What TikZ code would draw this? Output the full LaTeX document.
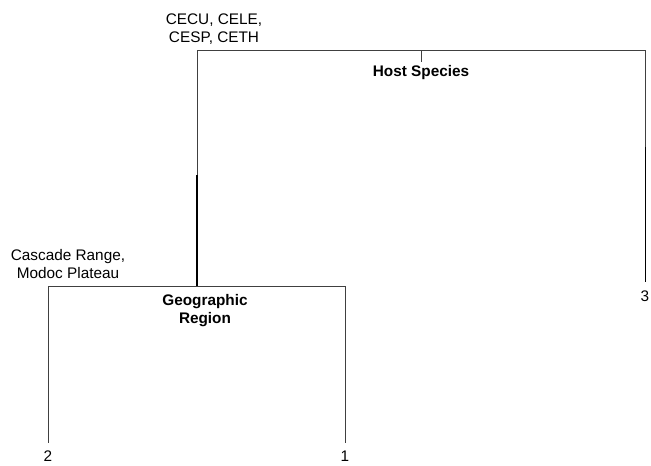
\documentclass[tikz,border=0pt]{standalone}
\usepackage{fontspec}
\setmainfont{Liberation Sans}
\begin{document}
\begin{tikzpicture}[x=0.75pt,y=-0.75pt,
  lbl/.style={font=\fontsize{11.5}{13.5}\selectfont,align=center,inner sep=0pt},
  blbl/.style={lbl,font=\fontsize{11.5}{13.5}\selectfont\bfseries},
  thinline/.style={draw=black!75,line width=0.6pt},
  midline/.style={draw=black,line width=0.75pt},
  thickline/.style={draw=black,line width=1.3pt}]
\useasboundingbox (0,0) rectangle (651,465);
% junction coordinates
\coordinate (rootL) at (197,50);
\coordinate (rootR) at (645,50);
\coordinate (rootM) at (421,50);
\coordinate (tick) at (421,62);
\coordinate (Lmid) at (197,175);
\coordinate (geo) at (197,286);
\coordinate (geoL) at (48,286);
\coordinate (geoR) at (345,286);
\coordinate (Rmid) at (645,147);
\coordinate (leaf3) at (645,282);
\coordinate (leaf2) at (48,443);
\coordinate (leaf1) at (345,443);
% leaf labels
\node[lbl] (n3) at (645,296) {3};
\node[lbl] (n2) at (48,456) {2};
\node[lbl] (n1) at (345,456) {1};
% split labels
\node[lbl] (hostvals) at (214,29) {CECU, CELE,\\CESP, CETH};
\node[blbl] (host) at (421,73) {Host Species};
\node[lbl] (geovals) at (68,264) {Cascade Range,\\Modoc Plateau};
\node[blbl] (georeg) at (205,311) {Geographic\\Region};
% tree lines
\draw[thinline] (rootL) -- (rootR);
\draw[thinline] (rootM) -- (tick);
\draw[thinline] (rootL) -- (Lmid);
\draw[thickline] (Lmid) -- (geo);
\draw[thinline] (rootR) -- (Rmid);
\draw[midline] (Rmid) -- (leaf3);
\draw[thinline] (geoL) -- (geoR);
\draw[thinline] (geoL) -- (leaf2);
\draw[thinline] (geoR) -- (leaf1);
\end{tikzpicture}
\end{document}
